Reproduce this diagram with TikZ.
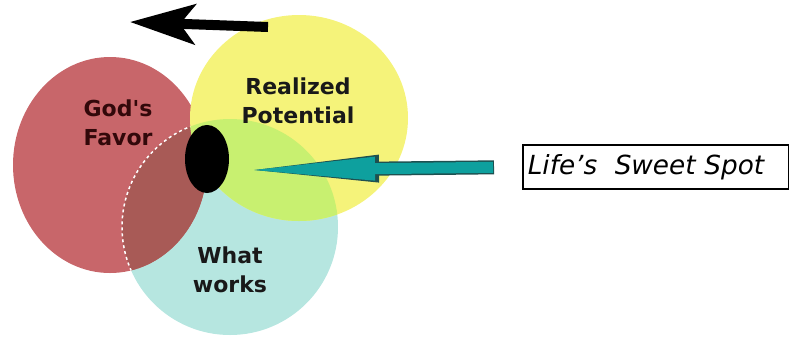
\documentclass[tikz,border=0pt]{standalone}
\usepackage{fontspec}
\setmainfont{DejaVu Sans}
\newfontfamily\vennfont{DejaVu Sans}
\usetikzlibrary{arrows.meta}

\definecolor{favorred}{RGB}{200,102,106}
\definecolor{potyellow}{RGB}{245,243,122}
\definecolor{workcyan}{RGB}{182,230,224}
\definecolor{spotgreen}{RGB}{200,240,112}
\definecolor{overbrown}{RGB}{168,90,86}
\definecolor{arrowteal}{RGB}{14,160,158}
\definecolor{edgeteal}{RGB}{30,80,80}
\definecolor{favorink}{RGB}{50,8,10}

\tikzset{
    vennlabel/.style={font=\vennfont\bfseries\fontsize{22}{29}\selectfont, align=center, text=black!90},
    spotbox/.style={draw, line width=1.6pt, font=\vennfont\itshape\fontsize{26.3}{30}\selectfont,
        anchor=west, text width=256pt, align=left, inner xsep=5pt, minimum height=44pt},
}

\begin{document}
\begin{tikzpicture}[x=1pt,y=-1pt]
    \useasboundingbox (0,0) rectangle (789,338);

    \coordinate (favor) at (110,165);
    \coordinate (potential) at (299,118);
    \coordinate (works) at (230,227);

    % circles
    \fill[workcyan] (works) ellipse [x radius=108, y radius=108];
    \fill[favorred] (favor) ellipse [x radius=97, y radius=108];
    \begin{scope}
        \clip (works) ellipse [x radius=108, y radius=108];
        \fill[overbrown] (favor) ellipse [x radius=97, y radius=108];
    \end{scope}
    \begin{scope}
        \clip (favor) ellipse [x radius=97, y radius=108];
        \draw[white, dashed, line width=1.5pt] (works) ellipse [x radius=108, y radius=108];
    \end{scope}
    \fill[potyellow] (potential) ellipse [x radius=109, y radius=103];
    \begin{scope}
        \clip (works) ellipse [x radius=108, y radius=108];
        \fill[spotgreen] (potential) ellipse [x radius=109, y radius=103];
    \end{scope}

    % sweet spot
    \fill (207,159) ellipse [x radius=22, y radius=34];

    \node[vennlabel, text=favorink] (godsfavor) at (118,123) {God's\\Favor};
    \node[vennlabel] (realized) at (298,101) {Realized\\Potential};
    \node[vennlabel] (whatworks) at (230,270) {What\\works};

    \node[spotbox] (spot) at (522,167) {Life’s\ \ Sweet Spot};

    % arrows
    \coordinate (backtail) at (268,27);
    \coordinate (backtip) at (130,22);
    \draw[line width=10pt, -{Stealth[length=65pt, width=40pt, inset=15pt]}] (backtail) -- (backtip);

    \coordinate (spottip) at (255,170);
    \draw[edgeteal, line width=14pt, shorten <=28pt, -{Triangle[length=124pt, width=28pt, line width=0pt]}] (spot.west) -- (spottip);
    \draw[arrowteal, line width=11pt, shorten <=29pt, -{Triangle[length=121pt, width=24pt, line width=0pt, sep=-1pt]}] (spot.west) -- (spottip);
\end{tikzpicture}
\end{document}
